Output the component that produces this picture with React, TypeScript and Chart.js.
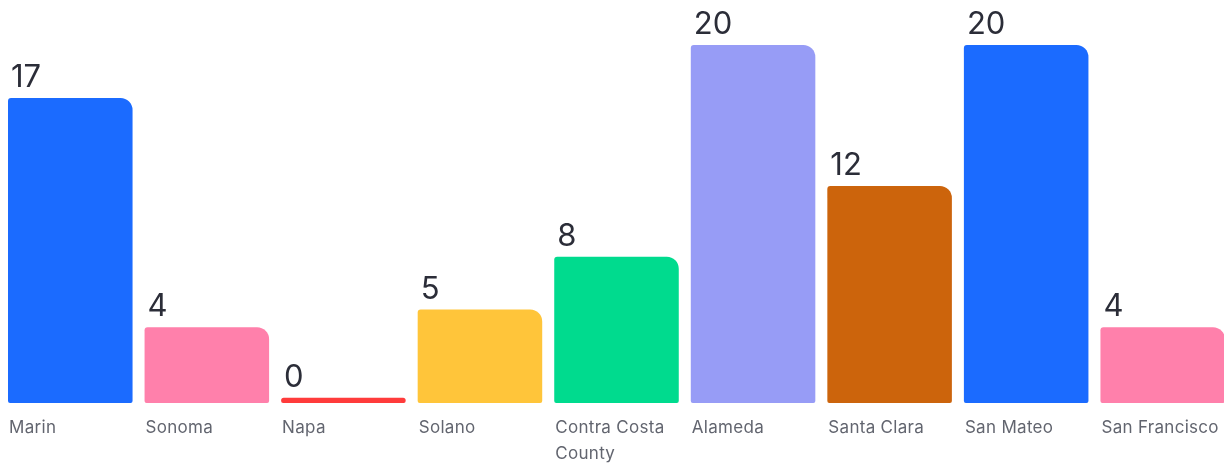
import React, { useEffect, useRef } from "react";
import { Chart, registerables } from "chart.js";

Chart.register(...registerables);

const categories: string[][] = [
  ["Marin"],
  ["Sonoma"],
  ["Napa"],
  ["Solano"],
  ["Contra Costa", "County"],
  ["Alameda"],
  ["Santa Clara"],
  ["San Mateo"],
  ["San Francisco"],
];
const values: number[] = [17, 4, 0, 5, 8, 20, 12, 20, 4];
const barColors: string[] = [
  "#1B6BFF",
  "#FF80AB",
  "#FF3B3B",
  "#FFC53A",
  "#00DB8E",
  "#979CF6",
  "#CC640C",
  "#1B6BFF",
  "#FF80AB",
];
const baseValue = -0.3;

const labelPlugin = {
  id: "barLabels",
  afterDatasetsDraw(chart: any) {
    const ctx = chart.ctx;
    const meta = chart.getDatasetMeta(0);
    const yScale = chart.scales.y;
    const baseY = yScale.getPixelForValue(baseValue);
    ctx.save();
    meta.data.forEach((bar: any, i: number) => {
      const left = bar.x - bar.width / 2;
      const topY = yScale.getPixelForValue(values[i]);
      ctx.fillStyle = "#2B2D38";
      ctx.font = "31px Inter";
      ctx.textAlign = "left";
      ctx.textBaseline = "alphabetic";
      (ctx as any).letterSpacing = "0px";
      ctx.fillText(String(values[i]), left + 3, topY - 11);
      ctx.fillStyle = "#62656F";
      ctx.font = "17px Inter";
      (ctx as any).letterSpacing = "0.3px";
      categories[i].forEach((line, j) => {
        ctx.fillText(line, left + 1, baseY + 30 + j * 26);
      });
    });
    ctx.restore();
  },
};

export default function App() {
  const ref = useRef<HTMLCanvasElement | null>(null);
  useEffect(() => {
    if (!ref.current) return;
    const chart = new Chart(ref.current, {
      type: "bar",
      data: {
        labels: categories.map((c) => c.join(" ")),
        datasets: [
          {
            data: values.map((v) => [baseValue, v]) as any,
            backgroundColor: barColors,
            borderWidth: 0,
            borderSkipped: false,
            borderRadius: { topLeft: 3, topRight: 12, bottomLeft: 2, bottomRight: 2 },
            barPercentage: 1,
            categoryPercentage: 0.912,
          },
        ],
      },
      options: {
        responsive: false,
        animation: false,
        layout: { padding: { top: 37, bottom: 63, left: 0, right: 0 } },
        plugins: { legend: { display: false }, tooltip: { enabled: false } },
        scales: {
          x: { display: false },
          y: { display: false, min: baseValue, max: 20 },
        },
      },
      plugins: [labelPlugin],
    });
    return () => chart.destroy();
  }, []);
  return (
    <div style={{ height: 458 }}>
      <canvas
        ref={ref}
        width={1229}
        height={458}
        style={{ position: "fixed", left: 2, top: 8 }}
      />
    </div>
  );
}
